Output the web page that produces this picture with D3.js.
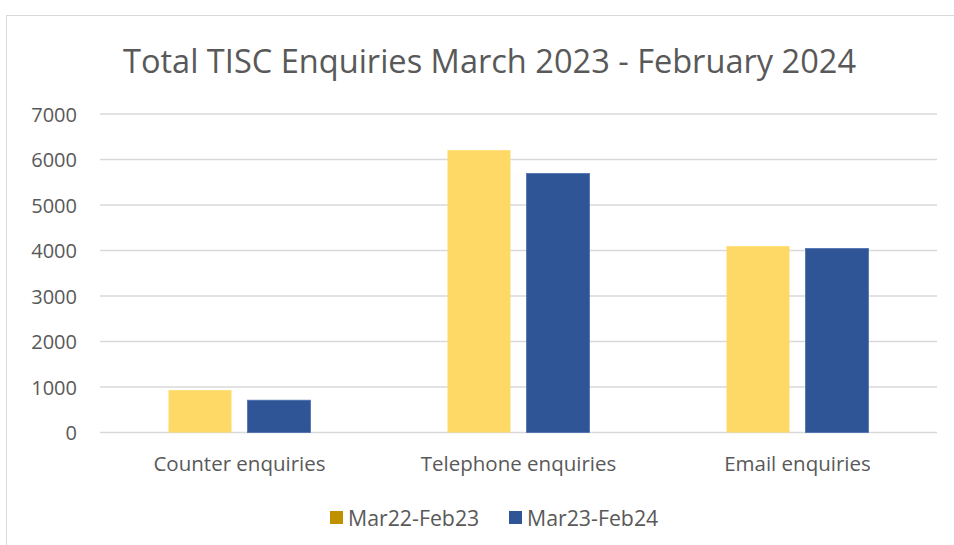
<!DOCTYPE html>
<html><head><meta charset="utf-8">
<script src="https://cdn.jsdelivr.net/npm/d3@7"></script>
<style>body{margin:0;background:#fff}svg{display:block}text{font-family:"Open Sans",sans-serif;fill:#595959}</style>
</head><body><svg id="c" width="954" height="545"></svg>
<script>
const categories = ["Counter enquiries","Telephone enquiries","Email enquiries"];
const seriesNames = ["Mar22-Feb23","Mar23-Feb24"];
const series1 = [930, 6205, 4095];
const series2 = [710, 5692, 4044];
const yTicks = [0,1000,2000,3000,4000,5000,6000,7000];
const barColors = ["#FFD966","#2F5597"];
const legendColors = ["#BF9000","#2F5597"];
const titleText = "Total TISC Enquiries March 2023 - February 2024";

(function(){
const svg = d3.select("#c");
svg.append("rect").attr("x",6.5).attr("y",15.5).attr("width",960).attr("height",540)
  .attr("fill","#fff").attr("stroke","#D9D9D9").attr("stroke-width",1);

const pl=100,pr=937,pt=114,pb=432.5;
const x = d3.scaleBand().domain(categories).range([pl,pr]).paddingInner(0).paddingOuter(0);
const x1 = d3.scaleBand().domain([0,1]).range([68.5, x.bandwidth()-68.5]).paddingInner(16/79).paddingOuter(0);
const y = d3.scaleLinear().domain([0,7000]).range([pb,pt]);

svg.append("text").attr("x",489.5).attr("y",73).attr("text-anchor","middle")
  .attr("textLength",733).attr("lengthAdjust","spacingAndGlyphs")
  .style("font-size","33px").text(titleText);

const g = svg.append("g");
g.selectAll("line.grid").data(yTicks).join("line").attr("class","grid")
  .attr("x1",pl).attr("x2",pr).attr("y1",d=>y(d)).attr("y2",d=>y(d))
  .attr("stroke","#D9D9D9").attr("stroke-width",1.5);

const yAxis = d3.axisLeft(y).tickValues(yTicks).tickSize(0).tickPadding(0).tickFormat(d3.format("d"));
const ya = svg.append("g").attr("transform",`translate(77,0)`).call(yAxis);
ya.select(".domain").remove();
ya.selectAll("text").style("font-size","20px").attr("fill","#595959").attr("dy","0.36em").style("font-family",'"Open Sans",sans-serif');

const data = [series1, series2];
categories.forEach((c,i)=>{
  data.forEach((s,j)=>{
    g.append("rect").attr("x",x(c)+x1(j)).attr("width",x1.bandwidth())
      .attr("y",y(s[i])).attr("height",y(0)-y(s[i]))
      .attr("fill",barColors[j])
      .attr("stroke", j===1 ? "#4A6FB0" : "none").attr("stroke-width", j===1?0.8:0);
  });
});

const xAxis = d3.axisBottom(x).tickSize(0).tickPadding(0);
const xa = svg.append("g").attr("transform",`translate(0,${pb+38.5})`).call(xAxis);
xa.select(".domain").remove();
xa.selectAll("text").style("font-size","20.5px").attr("fill","#595959").attr("y",0).attr("dy","0").style("font-family",'"Open Sans",sans-serif');

const lg = svg.append("g");
const legX = [330, 509];
seriesNames.forEach((n,j)=>{
  lg.append("rect").attr("x",legX[j]).attr("y",511).attr("width",13).attr("height",13).attr("fill",legendColors[j]);
  lg.append("text").attr("x",legX[j]+18).attr("y",526).style("font-size","21.3px").text(n);
});
})();
</script></body></html>
